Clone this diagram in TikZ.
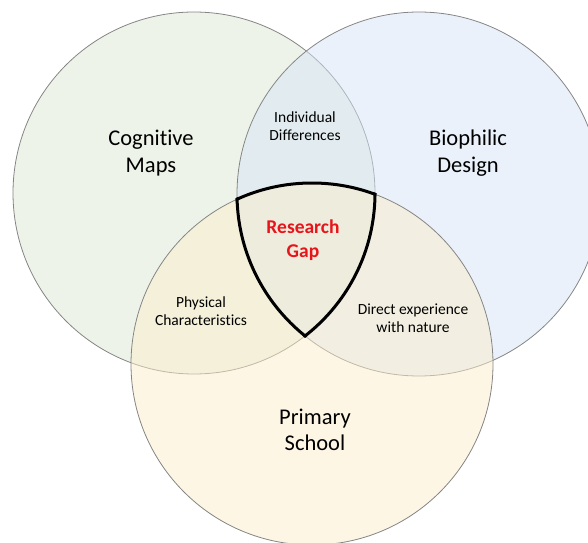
\documentclass[tikz,border=0pt]{standalone}
\usepackage{fontspec}
\setmainfont{Carlito}[Ligatures=NoCommon]
\usetikzlibrary{positioning}
\definecolor{mapgreen}{HTML}{DDE8D4}
\definecolor{bioblue}{HTML}{D6E4F6}
\definecolor{schoolyellow}{HTML}{FBEDC9}
\definecolor{ringgray}{HTML}{858585}
\definecolor{gapred}{HTML}{E8141B}

\begin{document}
\begin{tikzpicture}[x=1pt, y=1pt,
      set/.style={circle, draw=ringgray, line width=0.8pt, fill opacity=0.5,
        inner sep=0pt, outer sep=0pt},
      big/.style={font=\fontsize{22.5}{26.5}\selectfont, align=center},
      small/.style={font=\fontsize{15.5}{18.5}\selectfont, align=center},
      gapline/.style={line width=3pt, black}]
     \useasboundingbox (0,0) rectangle (588,542);
     \node[set, fill=mapgreen, minimum size=362pt] (maps) at (194,349) {};
     \node[set, fill=bioblue, minimum size=364pt] (bio) at (419,348) {};
     \node[set, fill=schoolyellow, minimum size=362pt] (school) at (312,178) {};
     \begin{scope}
       \clip (bio.center) circle[radius=183.5];
       \clip (school.center) circle[radius=182.5];
       \draw[gapline] (maps.center) circle[radius=181];
     \end{scope}
     \begin{scope}
       \clip (maps.center) circle[radius=182.5];
       \clip (school.center) circle[radius=182.5];
       \draw[gapline] (bio.center) circle[radius=182];
     \end{scope}
     \begin{scope}
       \clip (maps.center) circle[radius=182.5];
       \clip (bio.center) circle[radius=183.5];
       \draw[gapline] (school.center) circle[radius=181];
     \end{scope}
     \node[big] (mapslabel) at (151,389) {Cognitive\\Maps};
     \node[big] (biolabel) at (468,389) {Biophilic\\Design};
     \node[big] (schoollabel) at (315,112) {Primary\\School};
     \node[small] (diffs) at (305,416) {Individual\\Differences};
     \node[small] (physical) at (201,231) {Physical\\Characteristics};
     \node[small] (nature) at (413,224) {Direct experience\\with nature};
     \node[font=\fontsize{19.5}{23.5}\selectfont\bfseries, text=gapred, align=center]
       (gap) at (303,302) {Research\\Gap};
    \end{tikzpicture}
\end{document}
